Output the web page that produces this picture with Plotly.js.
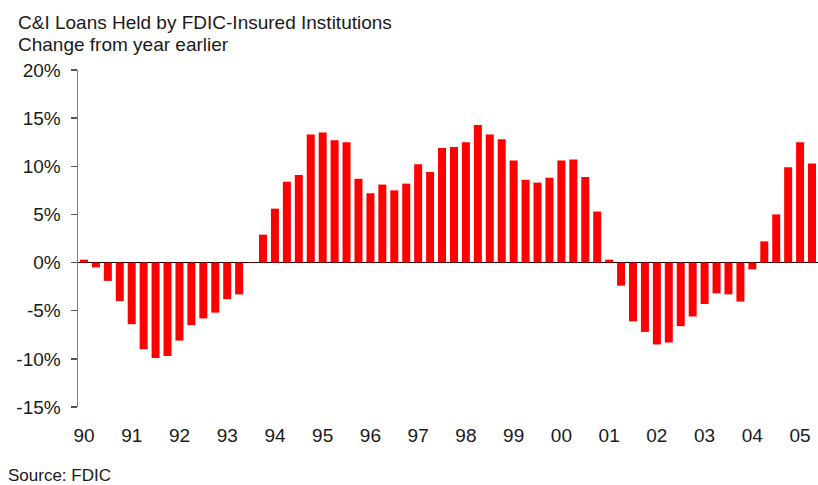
<!DOCTYPE html>
<html>
<head>
<meta charset="utf-8">
<script src="https://cdn.plot.ly/plotly-3.0.1.min.js"></script>
<style>html,body{margin:0;padding:0;background:#fff;}#chart{width:818px;height:485px;}</style>
</head>
<body>
<div id="chart"></div>
<script>
const quarters = [
 "1990Q1","1990Q2","1990Q3","1990Q4","1991Q1","1991Q2","1991Q3","1991Q4",
 "1992Q1","1992Q2","1992Q3","1992Q4","1993Q1","1993Q2","1993Q3","1993Q4",
 "1994Q1","1994Q2","1994Q3","1994Q4","1995Q1","1995Q2","1995Q3","1995Q4",
 "1996Q1","1996Q2","1996Q3","1996Q4","1997Q1","1997Q2","1997Q3","1997Q4",
 "1998Q1","1998Q2","1998Q3","1998Q4","1999Q1","1999Q2","1999Q3","1999Q4",
 "2000Q1","2000Q2","2000Q3","2000Q4","2001Q1","2001Q2","2001Q3","2001Q4",
 "2002Q1","2002Q2","2002Q3","2002Q4","2003Q1","2003Q2","2003Q3","2003Q4",
 "2004Q1","2004Q2","2004Q3","2004Q4","2005Q1","2005Q2"
];
const changePct = [
 0.3, -0.5, -1.9, -4.0, -6.4, -9.0, -9.9, -9.7,
 -8.1, -6.5, -5.8, -5.2, -3.8, -3.3, 0.05, 2.9,
 5.6, 8.4, 9.1, 13.3, 13.5, 12.7, 12.5, 8.7,
 7.2, 8.1, 7.5, 8.2, 10.2, 9.4, 11.9, 12.0,
 12.5, 14.3, 13.3, 12.8, 10.6, 8.6, 8.3, 8.8,
 10.6, 10.7, 8.9, 5.3, 0.3, -2.4, -6.1, -7.2,
 -8.5, -8.3, -6.6, -5.6, -4.3, -3.2, -3.3, -4.05,
 -0.7, 2.2, 5.0, 9.9, 12.5, 10.3
];
const yearTickVals = ["1990Q1","1991Q1","1992Q1","1993Q1","1994Q1","1995Q1","1996Q1","1997Q1",
 "1998Q1","1999Q1","2000Q1","2001Q1","2002Q1","2003Q1","2004Q1","2005Q1"];
const yearTickText = ["90","91","92","93","94","95","96","97","98","99","00","01","02","03","04","05"];
const yTickVals = [-15,-10,-5,0,5,10,15,20];
const yTickText = ["-15%","-10%","-5%","0%","5%","10%","15%","20%"];

const font = {family: "Liberation Sans, Arial, sans-serif", color: "#1a1a1a"};

const trace = {
  type: "bar",
  x: quarters,
  y: changePct,
  marker: {color: "#ff0000", line: {width: 0}},
  hoverinfo: "x+y"
};

const layout = {
  width: 818, height: 485,
  margin: {l: 78, r: 0, t: 70, b: 78},
  paper_bgcolor: "#ffffff", plot_bgcolor: "#ffffff",
  showlegend: false,
  bargap: 0.33,
  font: Object.assign({size: 19}, font),
  xaxis: {
    type: "category",
    range: [-0.5, 61.5],
    tickmode: "array",
    tickvals: yearTickVals,
    ticktext: yearTickText,
    ticks: "",
    showline: false,
    showgrid: false,
    zeroline: false,
    ticklabelstandoff: 15,
    tickfont: Object.assign({size: 19}, font)
  },
  yaxis: {
    range: [-15, 20],
    tickmode: "array",
    tickvals: yTickVals,
    ticktext: yTickText,
    ticks: "outside",
    ticklen: 6,
    tickwidth: 1.5,
    tickcolor: "#555555",
    showline: true,
    linecolor: "#808080",
    linewidth: 1.5,
    showgrid: false,
    zeroline: true,
    zerolinecolor: "#000000",
    zerolinewidth: 1.5,
    ticklabelstandoff: 6,
    tickfont: Object.assign({size: 19}, font)
  },
  annotations: [
    {xref: "paper", yref: "paper", x: -0.0838, y: 1.0, xanchor: "left", yanchor: "bottom",
     yshift: 35, text: "C&I Loans Held by FDIC-Insured Institutions", showarrow: false,
     font: Object.assign({size: 19}, font)},
    {xref: "paper", yref: "paper", x: -0.0838, y: 1.0, xanchor: "left", yanchor: "bottom",
     yshift: 13, text: "Change from year earlier", showarrow: false,
     font: Object.assign({size: 19}, font)},
    {xref: "paper", yref: "paper", x: -0.0973, y: 0, xanchor: "left", yanchor: "top",
     yshift: -57, text: "Source: FDIC", showarrow: false,
     font: Object.assign({size: 17}, font)}
  ]
};

Plotly.newPlot("chart", [trace], layout, {displayModeBar: false, staticPlot: true});
</script>
</body>
</html>
